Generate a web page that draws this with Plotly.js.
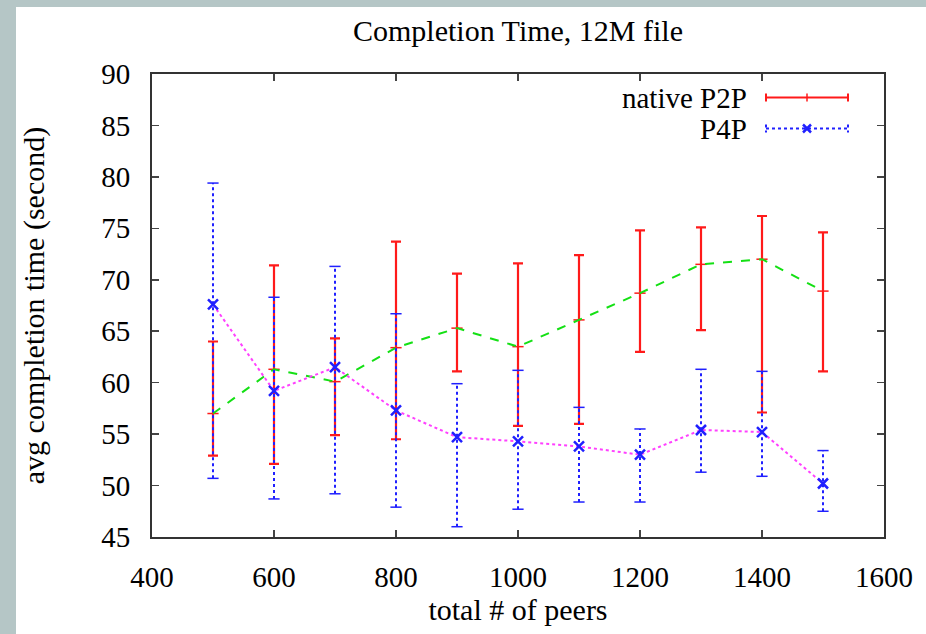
<!DOCTYPE html>
<html>
<head>
<meta charset="utf-8">
<script src="https://cdn.plot.ly/plotly-3.0.1.min.js"></script>
<style>html,body{margin:0;padding:0;background:#fff;}#chart{width:926px;height:634px;}</style>
</head>
<body>
<div id="chart"></div>
<script>
// ---- data ----
var peers = [500, 600, 700, 800, 900, 1000, 1100, 1200, 1300, 1400, 1500];

var nativeMean = [57.0, 61.3, 60.1, 63.4, 65.3, 63.5, 66.1, 68.7, 71.5, 72.0, 68.9];
var nativeHigh = [64.0, 71.4, 64.3, 73.7, 70.6, 71.6, 72.4, 74.8, 75.1, 76.2, 74.6];
var nativeLow  = [52.9, 52.1, 54.9, 54.5, 61.1, 55.8, 56.0, 63.0, 65.1, 57.1, 61.1];

var p4pMean = [67.6, 59.2, 61.5, 57.3, 54.7, 54.3, 53.8, 53.0, 55.4, 55.2, 50.2];
var p4pHigh = [79.4, 68.3, 71.3, 66.7, 59.9, 61.2, 57.6, 55.5, 61.3, 61.1, 53.4];
var p4pLow  = [50.7, 48.7, 49.2, 47.9, 46.0, 47.7, 48.4, 48.4, 51.3, 50.9, 47.5];

var seriesNames = ['native P2P', 'P4P'];
var titleText = 'Completion Time, 12M file';
var xTitle = 'total # of peers';
var yTitle = 'avg completion time (second)';

// ---- derived ----
var nativePlus = nativeHigh.map(function (h, i) { return h - nativeMean[i]; });
var nativeMinus = nativeLow.map(function (l, i) { return nativeMean[i] - l; });

var segX = [], segY = [], capX = [], capY = [];
peers.forEach(function (p, i) {
  segX.push(p, p, null);
  segY.push(p4pLow[i], p4pHigh[i], null);
  capX.push(p, p);
  capY.push(p4pLow[i], p4pHigh[i]);
});

var RED = '#ff1a1a', GREEN = '#14e014', BLUE = '#2020ff', MAG = '#ff40ff';
var FONT = 'Liberation Serif, Times New Roman, serif';

var traces = [
  { // native P2P error bars with center ticks
    x: peers, y: nativeMean, mode: 'markers', showlegend: false, name: seriesNames[0],
    marker: { symbol: 'line-ew-open', size: 8, color: RED, line: { color: RED, width: 1.5 } },
    error_y: { type: 'data', symmetric: false, array: nativePlus, arrayminus: nativeMinus,
               color: RED, thickness: 2.2, width: 5 }
  },
  { // native P2P connecting line
    x: peers, y: nativeMean, mode: 'lines', showlegend: false, name: seriesNames[0] + ' line',
    line: { color: GREEN, width: 2, dash: 'dash' }
  },
  { // P4P dotted error bars
    x: segX, y: segY, mode: 'lines', showlegend: false, name: seriesNames[1] + ' range',
    line: { color: BLUE, width: 2, dash: 'dot' }, connectgaps: false
  },
  { // P4P caps
    x: capX, y: capY, mode: 'markers', showlegend: false, name: seriesNames[1] + ' caps',
    marker: { symbol: 'line-ew-open', size: 8, color: BLUE, line: { color: BLUE, width: 1.5 } }
  },
  { // P4P line
    x: peers, y: p4pMean, mode: 'lines', showlegend: false, name: seriesNames[1] + ' line',
    line: { color: MAG, width: 2, dash: 'dot' }
  },
  { // P4P markers
    x: peers, y: p4pMean, mode: 'markers', showlegend: false, name: seriesNames[1],
    marker: { symbol: 'x-thin-open', size: 10, color: BLUE, line: { color: BLUE, width: 2.5 } }
  }
];

// legend geometry (paper coords)
var L = { l: 152, r: 42, t: 74, b: 97, W: 926, H: 634 };
var pw = L.W - L.l - L.r, ph = L.H - L.t - L.b;
function px(x) { return (x - L.l) / pw; }
function py(y) { return (L.H - L.b - y) / ph; }

var legY1 = 97.5, legY2 = 128.5, sx0 = 766, sx1 = 848, smid = 807;
var shapes = [
  // slide background strips
  { type: 'rect', xref: 'paper', yref: 'paper', x0: px(0), x1: px(16), y0: py(634), y1: py(0),
    fillcolor: '#b5c6c6', line: { width: 0 }, layer: 'below' },
  { type: 'rect', xref: 'paper', yref: 'paper', x0: px(0), x1: px(926), y0: py(7), y1: py(0),
    fillcolor: '#b5c6c6', line: { width: 0 }, layer: 'below' },
  // native P2P legend sample
  { type: 'line', xref: 'paper', yref: 'paper', x0: px(sx0), x1: px(sx1), y0: py(legY1), y1: py(legY1),
    line: { color: RED, width: 2 } },
  { type: 'line', xref: 'paper', yref: 'paper', x0: px(sx0), x1: px(sx0), y0: py(legY1 - 4), y1: py(legY1 + 4),
    line: { color: RED, width: 2 } },
  { type: 'line', xref: 'paper', yref: 'paper', x0: px(sx1), x1: px(sx1), y0: py(legY1 - 4), y1: py(legY1 + 4),
    line: { color: RED, width: 2 } },
  { type: 'line', xref: 'paper', yref: 'paper', x0: px(smid), x1: px(smid), y0: py(legY1 - 4), y1: py(legY1 + 4),
    line: { color: RED, width: 1.5 } },
  // P4P legend sample
  { type: 'line', xref: 'paper', yref: 'paper', x0: px(sx0), x1: px(sx1), y0: py(legY2), y1: py(legY2),
    line: { color: BLUE, width: 2, dash: 'dot' } },
  { type: 'line', xref: 'paper', yref: 'paper', x0: px(sx0), x1: px(sx0), y0: py(legY2 - 4), y1: py(legY2 + 4),
    line: { color: BLUE, width: 2, dash: 'dot' } },
  { type: 'line', xref: 'paper', yref: 'paper', x0: px(sx1), x1: px(sx1), y0: py(legY2 - 4), y1: py(legY2 + 4),
    line: { color: BLUE, width: 2, dash: 'dot' } },
  { type: 'line', xref: 'paper', yref: 'paper', x0: px(smid - 4), x1: px(smid + 4), y0: py(legY2 - 4), y1: py(legY2 + 4),
    line: { color: BLUE, width: 2.5 } },
  { type: 'line', xref: 'paper', yref: 'paper', x0: px(smid - 4), x1: px(smid + 4), y0: py(legY2 + 4), y1: py(legY2 - 4),
    line: { color: BLUE, width: 2.5 } }
];

var annotations = [
  { xref: 'paper', yref: 'paper', x: px(749), y: py(legY1), xanchor: 'right', yanchor: 'middle',
    text: seriesNames[0], showarrow: false, font: { family: FONT, size: 29, color: '#000' } },
  { xref: 'paper', yref: 'paper', x: px(749), y: py(legY2), xanchor: 'right', yanchor: 'middle',
    text: seriesNames[1], showarrow: false, font: { family: FONT, size: 29, color: '#000' } }
];

var axisCommon = {
  showgrid: false, zeroline: false, showline: true, linecolor: '#333', linewidth: 2,
  mirror: 'ticks', ticks: 'inside', ticklen: 7, tickwidth: 1.5, tickcolor: '#444',
  tickfont: { family: FONT, size: 29, color: '#000' }
};

var layout = {
  width: 926, height: 634,
  paper_bgcolor: '#ffffff', plot_bgcolor: '#ffffff',
  margin: { l: L.l, r: L.r, t: L.t, b: L.b, pad: 0 },
  showlegend: false,
  title: { text: titleText, font: { family: FONT, size: 30, color: '#000' },
           x: 0.5, xref: 'paper', xanchor: 'center', y: 1 - 30 / 634, yref: 'container', yanchor: 'middle' },
  xaxis: Object.assign({}, axisCommon, {
    range: [400, 1600], dtick: 200, tick0: 400, ticklabelstandoff: 13,
    title: { text: xTitle, font: { family: FONT, size: 30, color: '#000' }, standoff: 7 }
  }),
  yaxis: Object.assign({}, axisCommon, {
    range: [45, 90], dtick: 5, tick0: 45, ticklabelstandoff: 14,
    title: { text: yTitle, font: { family: FONT, size: 30, color: '#000' }, standoff: 48 }
  }),
  shapes: shapes,
  annotations: annotations
};

Plotly.newPlot('chart', traces, layout, { displayModeBar: false, staticPlot: true });
</script>
</body>
</html>
